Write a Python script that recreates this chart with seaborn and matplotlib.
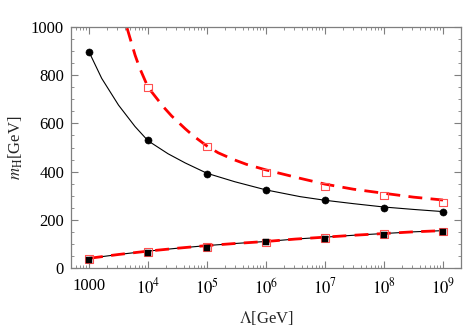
import matplotlib

matplotlib.use("Agg")
import matplotlib.pyplot as plt
import matplotlib.ticker as mticker
import numpy as np
import pandas as pd
import seaborn as sns

# data points (Lambda in GeV, m_H in GeV)
LAMBDA = [1e3, 1e4, 1e5, 1e6, 1e7, 1e8, 1e9]
UPPER_POINTS = [895, 530, 391, 324, 281, 250, 232]
UPPER_OPEN = [np.nan, 750, 503, 397, 337, 302, 271]
LOWER_POINTS = [35, 64, 84, 107, 120, 136, 151]
LOWER_OPEN = [37, 66, 88, 106, 124, 140, 152]

# fitted curves (log10 Lambda)
UPPER_FIT_LOGX = [3.0, 3.215, 3.5, 3.78, 4.0, 4.34, 4.63, 5.0, 5.47, 6.0, 6.58, 7.0, 7.48, 8.0, 8.5, 9.0]
UPPER_FIT = [897, 787, 676, 587, 528, 474, 436, 393, 358, 324, 296, 281, 267, 253, 243, 234]
RED_FIT_LOGX = [3.55, 3.64, 3.7, 3.78, 3.86, 4.0, 4.26, 4.4, 4.63, 4.77, 5.0, 5.19, 5.45, 5.67,
                6.0, 6.58, 7.0, 7.48, 8.0, 8.5, 9.0]
RED_FIT = [1085, 1000, 950, 884, 829, 750, 669, 631, 578, 548, 506, 478, 450, 430,
           407, 372, 348, 327, 310, 294, 282]
LOWER_FIT_LOGX = [3.0, 3.5, 4.0, 4.5, 5.0, 5.5, 6.0, 6.5, 7.0, 7.5, 8.0, 8.5, 9.0]
LOWER_FIT = [40, 56, 70, 82, 93, 102, 110, 120, 128, 136, 143, 150, 155]

sns.set_style("ticks")
plt.rcParams["font.family"] = ["Liberation Serif", "DejaVu Serif"]
plt.rcParams["mathtext.fontset"] = "stix"

FRAME = "#7f7f7f"

fig = plt.figure(figsize=(4.63, 3.26), dpi=100)
ax = fig.add_axes([0.1534, 0.178, 0.8423, 0.739])

upper_fit = pd.DataFrame({"x": 10 ** np.array(UPPER_FIT_LOGX), "y": UPPER_FIT})
red_fit = pd.DataFrame({"x": 10 ** np.array(RED_FIT_LOGX), "y": RED_FIT})
lower_fit = pd.DataFrame({"x": 10 ** np.array(LOWER_FIT_LOGX), "y": LOWER_FIT})

sns.lineplot(data=upper_fit, x="x", y="y", color="black", lw=0.8, ax=ax)
sns.lineplot(data=lower_fit, x="x", y="y", color="black", lw=0.8, ax=ax)
sns.lineplot(data=red_fit, x="x", y="y", color="red", lw=2.0, ax=ax)
ax.lines[-1].set_dashes([5, 3])
sns.lineplot(data=lower_fit, x="x", y="y", color="red", lw=2.0, ax=ax)
ax.lines[-1].set_dashes([5, 3])

pts = pd.DataFrame({"x": LAMBDA, "up": UPPER_POINTS, "up_open": UPPER_OPEN,
                    "lo": LOWER_POINTS, "lo_open": LOWER_OPEN})
sns.scatterplot(data=pts, x="x", y="up_open", marker="s", s=26, facecolor="none",
                edgecolor="#ff5050", linewidth=0.8, ax=ax, zorder=3)
sns.scatterplot(data=pts, x="x", y="lo_open", marker="s", s=30, facecolor="none",
                edgecolor="#ff5050", linewidth=0.8, ax=ax, zorder=3)
sns.scatterplot(data=pts, x="x", y="up", marker="o", s=26, color="black",
                edgecolor="black", ax=ax, zorder=4)
sns.scatterplot(data=pts, x="x", y="lo", marker="s", s=18, color="black",
                edgecolor="black", ax=ax, zorder=4)

ax.set_xscale("log")
ax.set_xlim(10 ** 2.695, 10 ** 9.305)
ax.set_ylim(0, 1000)

ax.xaxis.set_major_locator(mticker.FixedLocator(LAMBDA))
ax.set_xticklabels(["1000"] + [f"$10^{{{k}}}$" for k in range(4, 10)])
ax.xaxis.set_minor_locator(mticker.LogLocator(base=10, subs=np.arange(2, 10), numticks=20))
ax.xaxis.set_minor_formatter(mticker.NullFormatter())
ax.yaxis.set_major_locator(mticker.MultipleLocator(200))
ax.yaxis.set_minor_locator(mticker.MultipleLocator(50))

for s in ax.spines.values():
    s.set_color(FRAME)
    s.set_linewidth(0.9)
ax.tick_params(which="both", direction="in", top=True, right=True, color=FRAME,
               labelsize=12, labelcolor="black", pad=5)
ax.tick_params(axis="x", which="both", pad=7)
ax.tick_params(which="major", length=5, width=0.8)
ax.tick_params(which="minor", length=2.5, width=0.6)

ax.set_xlabel(r"$\Lambda$[GeV]", fontsize=12, labelpad=8)
ax.set_ylabel(r"$m_{\mathrm{H}}$[GeV]", fontsize=12, labelpad=4)

fig.savefig("out.png", dpi=100)
